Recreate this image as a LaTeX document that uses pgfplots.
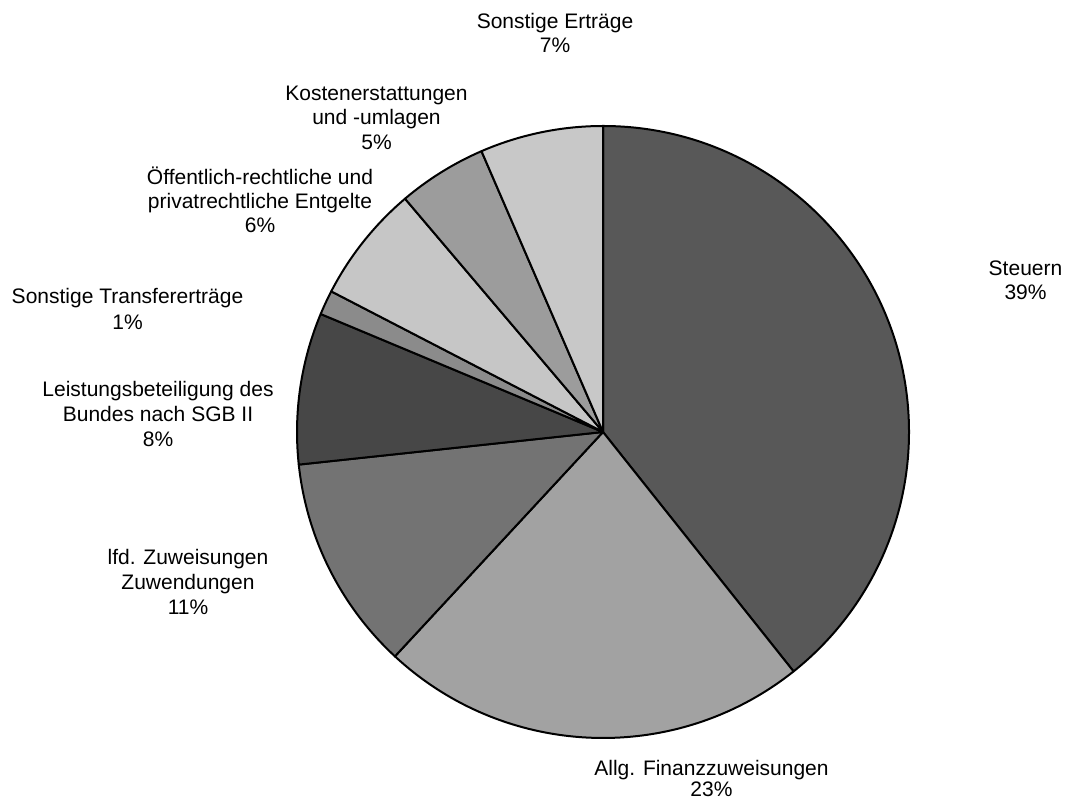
\documentclass[border=0pt]{standalone}
\usepackage{pgfplots}
\pgfplotsset{compat=1.18}
\usepackage{pgfplotstable}
\usepackage{fontspec}
\setmainfont{Liberation Sans}

% share in percent, grey level 0-255
\pgfplotstableread{
share gray
39.3  88
22.6  162
11.4  115
8.0   71
1.3   139
6.2   198
4.7   156
6.5   200
}\piedata

\newcommand{\lbl}[3]{\node[anchor=base,inner sep=0pt,font=\fontsize{21}{24}\selectfont] at (axis cs:#1,{800-#2}) {#3};}

\begin{document}
\begin{tikzpicture}
\begin{axis}[
  x=1pt, y=1pt,
  xmin=0, xmax=1067, ymin=0, ymax=800,
  hide axis, clip=false,
]
\path (axis cs:0,0) rectangle (axis cs:1067,800);
\pgfplotstablegetrowsof{\piedata}
\pgfmathtruncatemacro\nrows{\pgfplotsretval-1}
\def\cum{0}
\pgfplotsforeachungrouped \i in {0,...,\nrows}{%
  \pgfplotstablegetelem{\i}{share}\of\piedata \let\val\pgfplotsretval
  \pgfplotstablegetelem{\i}{gray}\of\piedata \let\gr\pgfplotsretval
  \pgfmathsetmacro\a{90-3.6*\cum}%
  \pgfmathsetmacro\b{90-3.6*(\cum+\val)}%
  \pgfmathsetmacro\cum{\cum+\val}%
  \edef\temp{\noexpand\filldraw[fill={rgb,255:red,\gr;green,\gr;blue,\gr}, draw=black, line width=2pt, line join=round]
    (axis cs:603,368) -- ++(\a:306) arc[start angle=\a, end angle=\b, radius=306] -- cycle;}%
  \temp
}
\lbl{555}{29}{Sonstige Erträge}
\lbl{555}{53}{7\%}
\lbl{376.5}{101}{Kostenerstattungen}
\lbl{376.5}{125}{und -umlagen}
\lbl{376.5}{150}{5\%}
\lbl{260}{185}{Öffentlich-rechtliche und}
\lbl{260}{209}{privatrechtliche Entgelte}
\lbl{260}{233}{6\%}
\lbl{127.5}{304}{Sonstige Transfererträge}
\lbl{127.5}{330}{1\%}
\lbl{158}{397}{Leistungsbeteiligung des}
\lbl{158}{422}{Bundes nach SGB II}
\lbl{158}{447}{8\%}
\lbl{188}{565}{lfd. Zuweisungen}
\lbl{188}{590}{Zuwendungen}
\lbl{188}{615}{11\%}
\lbl{1025.5}{276}{Steuern}
\lbl{1025.5}{300}{39\%}
\lbl{711.5}{775}{Allg. Finanzzuweisungen}
\lbl{711.5}{796}{23\%}
\end{axis}
\end{tikzpicture}
\end{document}
